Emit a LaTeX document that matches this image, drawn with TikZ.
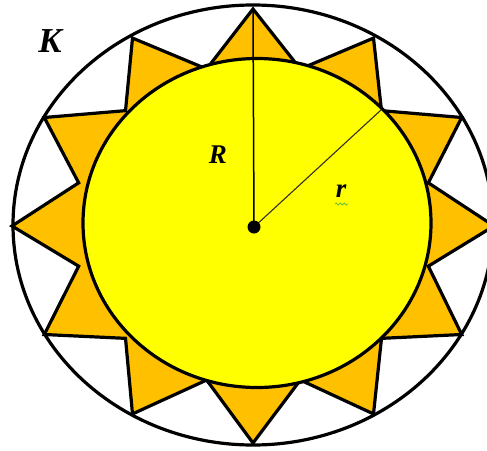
\documentclass[tikz,border=0pt]{standalone}
\usepackage{fontspec}
\setmainfont{Liberation Serif}
\usetikzlibrary{decorations.pathmorphing}
\definecolor{sunorange}{HTML}{FFC000}
\definecolor{sunyellow}{HTML}{FFFF00}
\definecolor{squig}{RGB}{110,190,60}
\tikzset{
  outline/.style={draw=black, line width=3.2pt},
  lbl/.style={font=\bfseries\itshape, inner sep=0pt},
}
\begin{document}
\begin{tikzpicture}[x=1pt,y=-1pt]
\useasboundingbox (0,0) rectangle (487,450);
\clip (0,0) rectangle (487,450);
% outer circle K
\draw[outline] (253,225) ellipse [x radius=240, y radius=220];
% star
\filldraw[outline, fill=sunorange, miter limit=20]
  ({253+241},226)
  \foreach \k in {0,...,11} {
    -- ({253.5+181*cos(30*\k+15)},{224.5-161*sin(30*\k+15)})
    -- ({253+241*cos(30*\k+30)},{226-217*sin(30*\k+30)})
  } -- cycle;
% inner yellow disk
\filldraw[outline, fill=sunyellow] (257,223) ellipse [x radius=174, y radius=164.5];
% radii
\coordinate (O) at (254,227);
\coordinate (Rtop) at (253,9);
\coordinate (rend) at (381,110);
\draw[line width=1.5pt] (O) -- (Rtop);
\draw[line width=1.1pt, black!85!olive] (O) -- (rend);
\fill (O) circle [radius=6.5];
% labels
\node[lbl, font=\fontsize{35}{35}\selectfont\bfseries\itshape] (K) at (50,41) {K};
\node[lbl, font=\fontsize{27}{27}\selectfont\bfseries\itshape] (R) at (218,155) {R};
\node[lbl, font=\fontsize{27}{27}\selectfont\bfseries\itshape] (r) at (341,191) {r};
\draw[squig, line width=0.8pt, decorate, decoration={snake, amplitude=1pt, segment length=4pt}] (335,204) -- (348,204);
\end{tikzpicture}
\end{document}
